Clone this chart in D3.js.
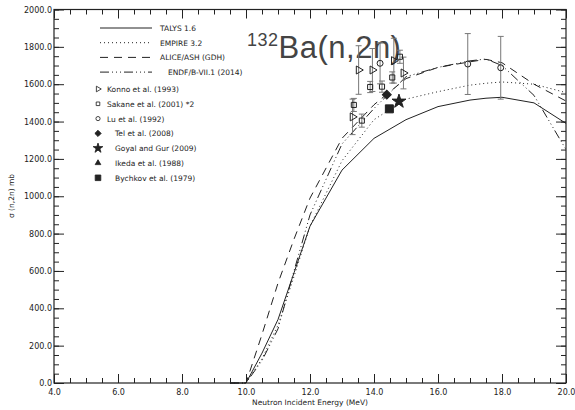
<!DOCTYPE html>
<html>
<head>
<meta charset="utf-8">
<script src="https://cdn.jsdelivr.net/npm/d3@7"></script>
<style>
  body { margin: 0; background: #fff; }
  text { font-family: "DejaVu Sans", sans-serif; fill: #222; }
</style>
</head>
<body>
<div id="chart"></div>
<script>
// model curves (energy in MeV, cross section in mb)
var energies = [9.5, 10, 10.5, 11, 11.5, 12, 13, 14, 15, 16, 17, 17.5, 18, 19, 20];
var talys    = [0, 0, 160, 340, 590, 840, 1140, 1310, 1410, 1480, 1515, 1525, 1530, 1500, 1390];
var empire   = [0, 0, 130, 310, 570, 840, 1190, 1410, 1520, 1560, 1595, 1605, 1612, 1600, 1555];
var alice    = [0, 0, 260, 535, 770, 990, 1310, 1490, 1630, 1690, 1720, 1733, 1715, 1600, 1510];
var endf     = [0, 0, 120, 290, 600, 900, 1280, 1470, 1640, 1690, 1725, 1735, 1700, 1540, 1250];

// experimental points: energy, sigma, error
var konno   = [[13.33, 1425, 95], [13.52, 1676, 130], [13.95, 1676, 115], [14.62, 1726, 120], [14.92, 1660, 85]];
var sakane  = [[13.37, 1489, 35], [13.62, 1405, 35], [13.88, 1585, 30], [14.25, 1587, 30], [14.57, 1636, 30], [14.81, 1747, 35]];
var lu      = [[14.19, 1712, 110], [16.93, 1708, 163], [17.96, 1688, 168]];
var tel     = [[14.4, 1544, 0]];
var goyal   = [[14.78, 1508, 0]];
var ikeda   = [];
var bychkov = [[14.48, 1468, 0]];

var xTicks = d3.range(4, 20.01, 2);
var yTicks = d3.range(0, 2000.1, 200);

var W = 575, H = 410;
var svg = d3.select("#chart").append("svg").attr("width", W).attr("height", H);

var x = d3.scaleLinear().domain([4, 20]).range([54, 566]);
var y = d3.scaleLinear().domain([0, 2000]).range([383, 9.5]);

// axes, ticks pointing inward on all four sides
var fmt = d3.format(".1f");
var ink = "#222";
function styleAxis(g) {
    g.select(".domain").remove();
    g.selectAll("line").attr("stroke", ink);
    g.selectAll("text").style("font-size", "8px").attr("fill", ink);
}
svg.append("g").attr("transform", "translate(0,383)")
    .call(d3.axisBottom(x).tickValues(xTicks).tickSize(-9).tickPadding(6).tickFormat(fmt)).call(styleAxis);
svg.append("g").attr("transform", "translate(0,383)")
    .call(d3.axisBottom(x).tickValues(d3.range(4, 20.01, 0.5)).tickSize(-5).tickFormat("")).call(styleAxis);
svg.append("g").attr("transform", "translate(0,9.5)")
    .call(d3.axisTop(x).tickValues(xTicks).tickSize(-9).tickFormat("")).call(styleAxis);
svg.append("g").attr("transform", "translate(0,9.5)")
    .call(d3.axisTop(x).tickValues(d3.range(4, 20.01, 0.5)).tickSize(-5).tickFormat("")).call(styleAxis);
svg.append("g").attr("transform", "translate(54,0)")
    .call(d3.axisLeft(y).tickValues(yTicks).tickSize(-10).tickPadding(2).tickFormat(fmt)).call(styleAxis);
svg.append("g").attr("transform", "translate(54,0)")
    .call(d3.axisLeft(y).tickValues(d3.range(0, 2000.1, 50)).tickSize(-5).tickFormat("")).call(styleAxis);
svg.append("g").attr("transform", "translate(566,0)")
    .call(d3.axisRight(y).tickValues(yTicks).tickSize(-10).tickFormat("")).call(styleAxis);
svg.append("g").attr("transform", "translate(566,0)")
    .call(d3.axisRight(y).tickValues(d3.range(0, 2000.1, 50)).tickSize(-5).tickFormat("")).call(styleAxis);

svg.append("rect").attr("x", 54).attr("y", 9.5).attr("width", 512).attr("height", 373.5)
    .attr("fill", "none").attr("stroke", ink).attr("stroke-width", 1.2);

// axis titles
svg.append("text").attr("x", 310).attr("y", 405).attr("text-anchor", "middle")
    .style("font-size", "7.5px").text("Neutron Incident Energy (MeV)");
svg.append("text").attr("transform", "translate(14,196) rotate(-90)").attr("text-anchor", "middle")
    .style("font-size", "7.5px").text("σ  (n,2n) mb");

// reaction title
var title = svg.append("text").attr("x", 247).attr("y", 58)
    .style("font-size", "31px").style("font-family", "Liberation Sans, sans-serif")
    .style("fill", "#444").style("letter-spacing", "0.5px");
title.append("tspan").attr("dy", -12).style("font-size", "18px").text("132");
title.append("tspan").attr("dy", 12).text("Ba(n,2n)");

// model curves
var models = [
    { name: "TALYS 1.6", values: talys, dash: null },
    { name: "EMPIRE 3.2", values: empire, dash: "1,3" },
    { name: "ALICE/ASH (GDH)", values: alice, dash: "8,6" },
    { name: "ENDF/B-VII.1 (2014)", values: endf, dash: "9,3,1,3,1,3,1,3" }
];
var line = d3.line().x(function(d) { return x(d[0]); }).y(function(d) { return y(d[1]); });
models.forEach(function(m) {
    svg.append("path")
        .datum(energies.map(function(e, i) { return [e, m.values[i]]; }))
        .attr("d", line).attr("fill", "none").attr("stroke", ink).attr("stroke-width", 1)
        .attr("stroke-dasharray", m.dash);
});

// experimental sets
var sets = [
    { name: "Konno et al. (1993)", data: konno, sym: d3.symbol().type(d3.symbolTriangle).size(28), rot: 90, fill: "none" },
    { name: "Sakane et al. (2001) *2", data: sakane, sym: d3.symbol().type(d3.symbolSquare).size(26), rot: 0, fill: "none" },
    { name: "Lu et al. (1992)", data: lu, sym: d3.symbol().type(d3.symbolCircle).size(28), rot: 0, fill: "none" },
    { name: "Tel et al. (2008)", data: tel, sym: d3.symbol().type(d3.symbolSquare).size(40), rot: 45, fill: ink },
    { name: "Goyal and  Gur (2009)", data: goyal, sym: d3.symbol().type(d3.symbolStar).size(60), rot: 0, fill: ink },
    { name: "Ikeda et al.  (1988)", data: ikeda, sym: d3.symbol().type(d3.symbolTriangle).size(28), rot: 0, fill: ink },
    { name: "Bychkov et al. (1979)", data: bychkov, sym: d3.symbol().type(d3.symbolSquare).size(64), rot: 0, fill: ink }
];
sets.forEach(function(s) {
    var g = svg.append("g");
    s.data.filter(function(d) { return d[2] > 0; }).forEach(function(d) {
        var x0 = x(d[0]), t = y(d[1] + d[2]), b = y(d[1] - d[2]);
        g.append("line").attr("x1", x0).attr("x2", x0).attr("y1", t).attr("y2", b).attr("stroke", "#777");
        g.append("line").attr("x1", x0 - 3).attr("x2", x0 + 3).attr("y1", t).attr("y2", t).attr("stroke", "#777");
        g.append("line").attr("x1", x0 - 3).attr("x2", x0 + 3).attr("y1", b).attr("y2", b).attr("stroke", "#777");
    });
    g.selectAll("path").data(s.data).enter().append("path")
        .attr("d", s.sym)
        .attr("transform", function(d) { return "translate(" + x(d[0]) + "," + y(d[1]) + ") rotate(" + s.rot + ")"; })
        .attr("fill", s.fill === "none" ? "#fff" : s.fill).attr("fill-opacity", s.fill === "none" ? 0 : 1)
        .attr("stroke", ink).attr("stroke-width", 1);
});

// legend
var lg = svg.append("g").style("font-size", "7.5px");
models.forEach(function(m, i) {
    var ly = 28 + i * 14.7;
    lg.append("line").attr("x1", 100).attr("x2", 152).attr("y1", ly).attr("y2", ly)
        .attr("stroke", ink).attr("stroke-dasharray", m.dash);
    lg.append("text").attr("x", i === 3 ? 168 : 160).attr("y", ly + 3).text(m.name);
});
sets.forEach(function(s, i) {
    var ly = 89 + i * 14.8;
    lg.append("path").attr("d", s.sym)
        .attr("transform", "translate(98," + ly + ") rotate(" + s.rot + ") scale(0.7)")
        .attr("fill", s.fill === "none" ? "none" : s.fill).attr("stroke", ink).attr("stroke-width", 1.2);
    lg.append("text").attr("x", i < 3 ? 107 : 115).attr("y", ly + 3).text(s.name);
});
</script>
</body>
</html>
